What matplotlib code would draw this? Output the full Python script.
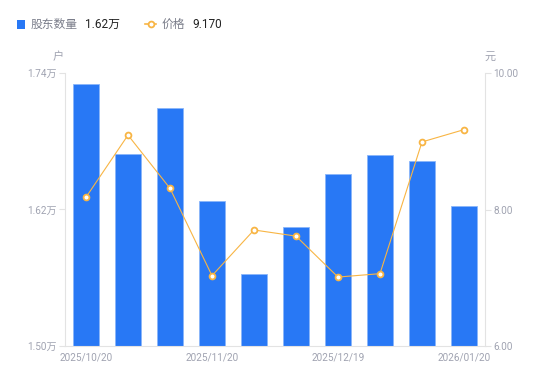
import matplotlib
matplotlib.use("Agg")
import matplotlib.pyplot as plt
from matplotlib.lines import Line2D
from matplotlib.patches import Rectangle

plt.rcParams['font.family'] = ['Roboto', 'Noto Sans CJK SC', 'DejaVu Sans']

dates = ["2025/10/20", "2025/10/31", "2025/11/10", "2025/11/20", "2025/11/28",
         "2025/12/10", "2025/12/19", "2025/12/31", "2026/01/09", "2026/01/20"]
holders = [1.730, 1.669, 1.709, 1.6275, 1.563, 1.6046, 1.651, 1.668, 1.6626, 1.623]  # 万户
price = [8.18, 9.09, 8.31, 7.03, 7.70, 7.61, 7.01, 7.06, 8.99, 9.17]
shown_ticks = [0, 3, 6, 9]
left_ticks = [1.50, 1.62, 1.74]
right_ticks = [6.00, 8.00, 10.00]

BLUE = "#2878F5"
ORANGE = "#F8B544"
GRAY = "#A0A3B1"
AXC = "#E3E3E3"

fig = plt.figure(figsize=(5.5, 3.81), dpi=100)
ax = fig.add_axes([65/550, 35/381, 420/550, 273/381])
x = list(range(len(dates)))
ax.bar(x, holders, width=0.6, color=BLUE, edgecolor="#8AB6FA", linewidth=0.6, zorder=2)
ax.set_xlim(-0.5, len(dates) - 0.5)
ax.set_ylim(1.50, 1.74)
ax.set_yticks(left_ticks)
ax.set_yticklabels([f"{v:.2f}万" for v in left_ticks])
ax.set_xticks(shown_ticks)
ax.set_xticklabels([dates[i] for i in shown_ticks])
for s in ["top", "right"]:
    ax.spines[s].set_visible(False)
ax.spines["left"].set_color(AXC)
ax.spines["bottom"].set_color(AXC)
ax.tick_params(axis="y", colors=AXC, labelcolor=GRAY, labelsize=7.2, length=4, pad=2)
ax.tick_params(axis="x", length=0, labelcolor=GRAY, labelsize=7.2, pad=5)

ax2 = ax.twinx()
ax2.plot(x, price, color=ORANGE, linewidth=0.8, marker="o", markersize=4.2,
         markerfacecolor="white", markeredgecolor=ORANGE, markeredgewidth=1.3, zorder=3)
ax2.set_ylim(6, 10)
ax2.set_yticks(right_ticks)
ax2.set_yticklabels([f"{v:.2f}" for v in right_ticks])
for s in ["top", "left", "bottom"]:
    ax2.spines[s].set_visible(False)
ax2.spines["right"].set_color(AXC)
ax2.tick_params(axis="y", colors=AXC, labelcolor=GRAY, labelsize=7.2, length=4, pad=2)

fig.text(58/550, 1 - 57/381, "户", color=GRAY, fontsize=8, ha="center", va="center")
fig.text(490/550, 1 - 57/381, "元", color=GRAY, fontsize=8, ha="center", va="center")

# legend
fig.patches.append(Rectangle((17/550, 1 - 29/381), 8/550, 9/381, transform=fig.transFigure,
                             facecolor=BLUE, edgecolor="none"))
fig.text(31/550, 1 - 24/381, "股东数量", color="#7A7D8A", fontsize=8.5, va="center")
fig.text(85/550, 1 - 24/381, f"{holders[-1]:.2f}万", color="#222222", fontsize=8.5, va="center")
fig.lines.append(Line2D([145/550, 156/550], [1 - 24/381, 1 - 24/381], transform=fig.transFigure,
                        color=ORANGE, linewidth=1.2))
fig.lines.append(Line2D([150.5/550], [1 - 24/381], transform=fig.transFigure, color=ORANGE,
                        marker="o", markersize=4.2, markerfacecolor="white",
                        markeredgecolor=ORANGE, markeredgewidth=1.3, linestyle="none"))
fig.text(162/550, 1 - 24/381, "价格", color="#7A7D8A", fontsize=8.5, va="center")
fig.text(192/550, 1 - 24/381, f"{price[-1]:.3f}", color="#222222", fontsize=8.5, va="center")

fig.savefig("out.png", dpi=100)
